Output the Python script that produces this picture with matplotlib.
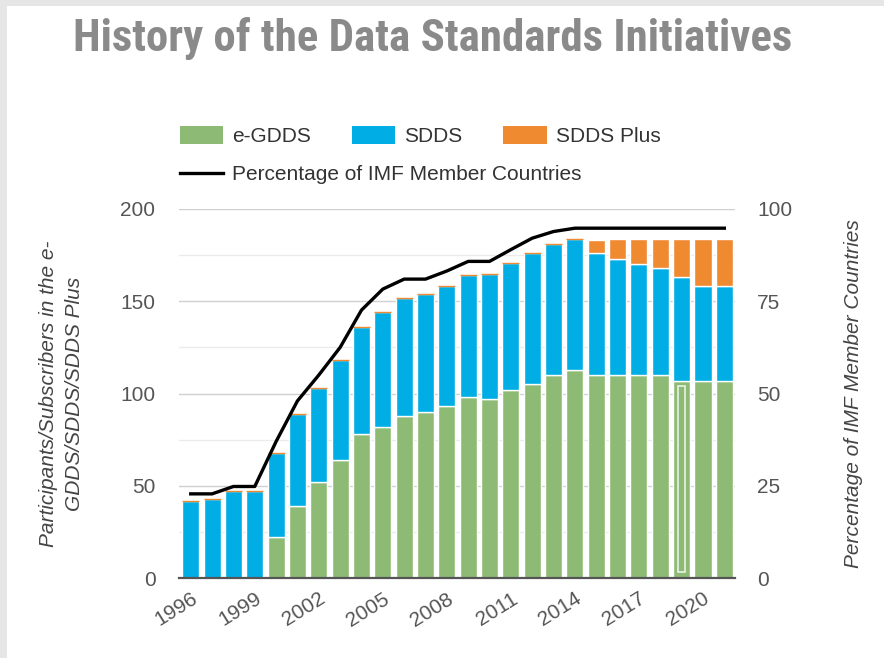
import matplotlib
matplotlib.use("Agg")
import matplotlib.pyplot as plt
from matplotlib import font_manager
from matplotlib.patches import Patch, Rectangle
from matplotlib.lines import Line2D
import numpy as np

# Data
years = list(range(1996, 2022))
egdds = [0, 0, 0, 0, 22, 39, 52, 64, 78, 82, 88, 90, 93, 98, 97, 102, 105, 110, 113,
         110, 110, 110, 110, 107, 107, 107]
sdds = [42, 43, 47, 47, 46, 50, 51, 54, 58, 62, 64, 64, 65, 66, 68, 69, 71, 71, 71,
        66, 63, 60, 58, 56, 51, 51]
sdds_plus = [0, 0, 0, 0, 0, 0, 0, 0, 0, 0, 0, 0, 0, 0, 0, 0, 0, 0, 0,
             7, 11, 14, 16, 21, 26, 26]
pct_members = [22.8, 22.8, 24.8, 24.8, 37, 48, 55, 62.5, 72.6, 78.3, 81, 81, 83.2,
               85.8, 85.8, 89, 92.1, 93.9, 94.8, 94.8, 94.8, 94.8, 94.8, 94.8, 94.8, 94.8]
tick_years = list(range(1996, 2021, 3))

GREEN = "#8dbb76"
BLUE = "#00ade5"
ORANGE = "#f08a31"
TEXT = "#555555"

plt.rcParams['font.family'] = ['Liberation Sans', 'DejaVu Sans']


def pick_condensed():
    # the title is set in a condensed bold face; use whichever narrow family exists
    for name in ["Roboto Condensed", "Liberation Sans Narrow", "DejaVu Sans Condensed",
                 "Open Sans Condensed", "Noto Sans Condensed", "Arial Narrow"]:
        try:
            font_manager.findfont(font_manager.FontProperties(family=name, weight="bold"),
                                  fallback_to_default=False)
            return name
        except Exception:
            continue
    return "Liberation Sans"


fig = plt.figure(figsize=(8.84, 6.58), dpi=100, facecolor="#e6e6e6")
# white card inside the grey frame
fig.patches.append(Rectangle((7 / 884, 0), 1, 652 / 658, transform=fig.transFigure,
                             facecolor="white", edgecolor="none", zorder=-10))

ax = fig.add_axes([179 / 884, 80 / 658, 556 / 884, 369 / 658])
ax.patch.set_alpha(0)

x = np.arange(len(years))
eg = np.array(egdds)
sd = np.array(sdds)
sp = np.array(sdds_plus)
width = 0.8

ax.bar(x, eg, width, color=GREEN, edgecolor="white", linewidth=1, zorder=3)
ax.bar(x, sd, width, bottom=eg, color=BLUE, edgecolor="white", linewidth=1, zorder=3)
plus_edges = [ORANGE if v == 0 else "white" for v in sdds_plus]
ax.bar(x, sp, width, bottom=eg + sd, color=ORANGE, edgecolor=plus_edges,
       linewidth=1, zorder=3)

# faint hover outline seen on the 2019 bar
i19 = years.index(2019)
ax.bar(x[i19], eg[i19] - 6, 0.32, bottom=3, fill=False, edgecolor="#e9f2e4",
       linewidth=1.2, zorder=4)

ax.set_xlim(-0.55, len(years) - 0.5)
ax.set_ylim(0, 200)
ax.set_yticks(range(0, 201, 50))
ax.set_yticks(range(25, 200, 50), minor=True)
ax.grid(axis="y", which="major", color="#d0d0d0", linewidth=1, zorder=0)
ax.grid(axis="y", which="minor", color="#ebebeb", linewidth=1, zorder=0)
ax.set_xticks([years.index(y) for y in tick_years])
ax.set_xticklabels([str(y) for y in tick_years], rotation=32, ha="right",
                   rotation_mode="anchor")
ax.tick_params(axis="x", length=0, pad=8, labelsize=15, labelcolor=TEXT)
ax.tick_params(axis="y", which="both", length=0, pad=17, labelsize=15, labelcolor=TEXT)
for s in ["top", "left", "right"]:
    ax.spines[s].set_visible(False)
ax.spines["bottom"].set_color("#555555")
ax.spines["bottom"].set_linewidth(1.6)
ax.spines["bottom"].set_zorder(5)

ax.set_ylabel("Participants/Subscribers in the e-\nGDDS/SDDS/SDDS Plus",
              fontsize=15, style="italic", color="#444444", labelpad=26,
              linespacing=1.45)

ax2 = ax.twinx()
ax2.plot(x, pct_members, color="black", linewidth=2.4, zorder=5)
ax2.set_ylim(0, 100)
ax2.set_yticks(range(0, 101, 25))
ax2.tick_params(axis="y", length=0, pad=16, labelsize=15, labelcolor=TEXT)
for s in ax2.spines.values():
    s.set_visible(False)
ax2.set_ylabel("Percentage of IMF Member Countries", fontsize=15, style="italic",
               color="#444444", labelpad=37)

title = fig.text(73 / 884, 1 - 38 / 658, "History of the Data Standards Initiatives",
                 family=[pick_condensed(), "Liberation Sans"], weight="bold",
                 fontsize=34, color="#8a8a8a", ha="left", va="center")
# scale the title so it spans the same width as in the reference (~717 px)
renderer = fig.canvas.get_renderer()
w = title.get_window_extent(renderer).width
title.set_fontsize(min(34, 34 * 717 / w))

bar_handles = [Patch(facecolor=GREEN, label="e-GDDS"),
               Patch(facecolor=BLUE, label="SDDS"),
               Patch(facecolor=ORANGE, label="SDDS Plus")]
leg1 = fig.legend(handles=bar_handles, loc="center left",
                  bbox_to_anchor=(180 / 884, 1 - 136 / 658), ncol=3, frameon=False,
                  fontsize=15, handlelength=2.07, handleheight=0.96,
                  handletextpad=0.45, columnspacing=1.95, borderpad=0,
                  borderaxespad=0)
for t in leg1.get_texts():
    t.set_color("#333333")
leg2 = fig.legend(handles=[Line2D([], [], color="black", linewidth=2.4,
                                  label="Percentage of IMF Member Countries")],
                  loc="center left", bbox_to_anchor=(180 / 884, 1 - 175 / 658),
                  frameon=False, fontsize=15, handlelength=2.07,
                  handletextpad=0.45, borderpad=0, borderaxespad=0)
for t in leg2.get_texts():
    t.set_color("#333333")

fig.savefig("out.png", dpi=100, facecolor=fig.get_facecolor())
